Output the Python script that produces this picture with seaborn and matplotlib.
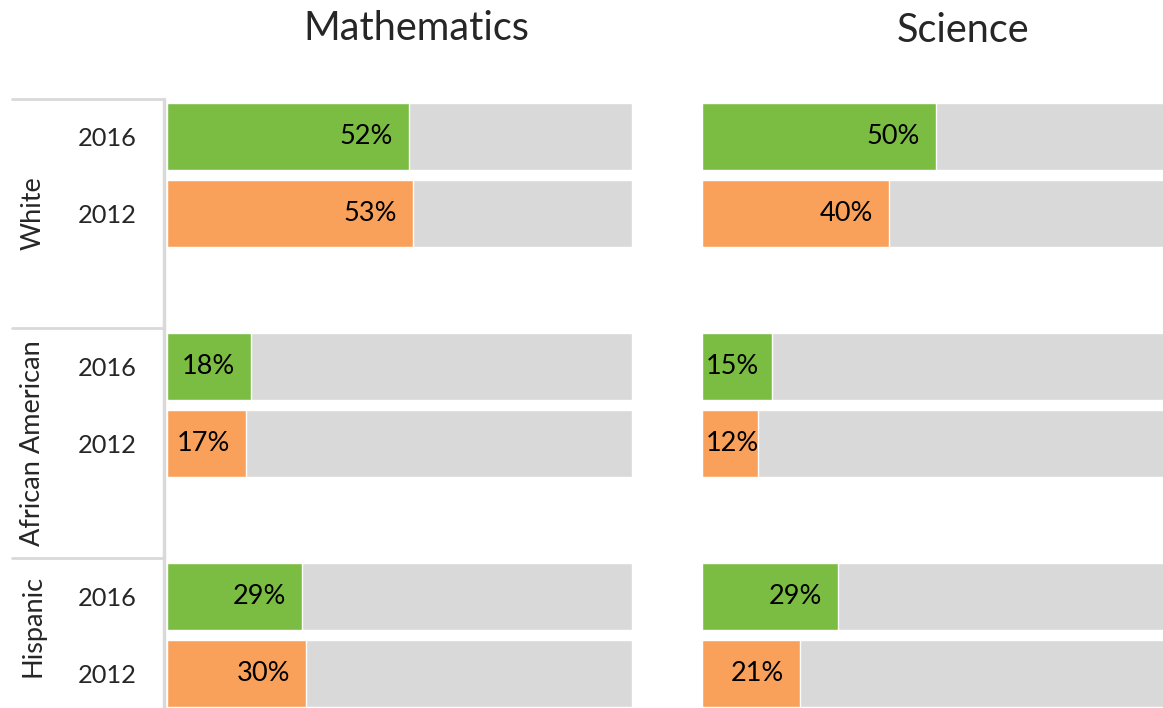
import matplotlib
matplotlib.use("Agg")
import matplotlib.pyplot as plt
from matplotlib.lines import Line2D
from matplotlib.transforms import offset_copy
import seaborn as sns
import pandas as pd

# Share of students reaching the benchmark, by group and year
groups = ["White", "African American", "Hispanic"]
years = ["2016", "2012"]
math_2016 = [52, 18, 29]
math_2012 = [53, 17, 30]
sci_2016 = [50, 15, 29]
sci_2012 = [40, 12, 21]
subjects = ["Mathematics", "Science"]

GREEN = "#7BBD43"
ORANGE = "#F9A15A"
GRAY = "#D9D9D9"
LINE = "#D9D9D9"

sns.set_theme(style="white")
plt.rcParams["font.family"] = ["Lato", "DejaVu Sans"]

W, H = 1163, 708
fig = plt.figure(figsize=(W / 100, H / 100), dpi=100)
renderer = fig.canvas.get_renderer()


def frame(values_2016, values_2012):
    rows = []
    for gi, g in enumerate(groups):
        rows.append({"pos": gi * 3, "year": years[0], "value": values_2016[gi]})
        rows.append({"pos": gi * 3 + 1, "year": years[1], "value": values_2012[gi]})
    df = pd.DataFrame(rows)
    df["full"] = 100
    return df


def px_axes(x0, x1, y0, y1):
    return fig.add_axes([x0 / W, 1 - y1 / H, (x1 - x0) / W, (y1 - y0) / H])


panels = [
    (frame(math_2016, math_2012), 167, 632),
    (frame(sci_2016, sci_2012), 702, 1170),
]
slot = 76.67
top_px, bot_px = 99, 708
first_center = 136.5
ymin = -(first_center - top_px) / slot
ymax = ymin + (bot_px - top_px) / slot
LABEL_SIZE = 19.5

axes = []
for df, x0, x1 in panels:
    ax = px_axes(x0, x1, top_px, bot_px)
    sns.barplot(data=df, x="full", y="pos", orient="h", native_scale=True,
                color=GRAY, width=0.874, saturation=1, ax=ax, errorbar=None)
    sns.barplot(data=df, x="value", y="pos", hue="year", orient="h",
                native_scale=True, palette={years[0]: GREEN, years[1]: ORANGE},
                width=0.874, saturation=1, dodge=False, ax=ax, legend=False,
                errorbar=None)
    ax.set_xlim(0, 100)
    ax.set_ylim(ymax, ymin)
    # value labels at the inside end, kept inside the bar's left edge
    inside_end = offset_copy(ax.transData, fig=fig, x=-16, y=0, units="dots")
    for _, r in df.iterrows():
        t = ax.text(r["value"], r["pos"], f"{r['value']}%", ha="right",
                    va="center", fontsize=LABEL_SIZE, color="black",
                    transform=inside_end)
        bb = t.get_window_extent(renderer)
        x_start = ax.transData.transform((0, 0))[0]
        if bb.x0 < x_start + 4:
            t.set_transform(offset_copy(ax.transData, fig=fig, x=4, y=0,
                                        units="dots"))
            t.set_x(0)
            t.set_ha("left")
    ax.set_xlabel("")
    ax.set_ylabel("")
    ax.set_xticks([])
    sns.despine(ax=ax, left=True, bottom=True)
    axes.append(ax)

# year labels beside the left panel
axl = axes[0]
axl.set_yticks(list(frame(math_2016, math_2012)["pos"]))
axl.set_yticklabels(years * len(groups), fontsize=18.3)
axl.tick_params(axis="y", length=0, pad=21.6)
axes[1].set_yticks([])

# panel titles
fig.text(416 / W, 1 - 28 / H, subjects[0], ha="center", va="center", fontsize=28.5)
fig.text(963 / W, 1 - 30 / H, subjects[1], ha="center", va="center", fontsize=28.5)

# group labels and separators
sep_px = [99, 328, 558, 708]
for gi, g in enumerate(groups):
    yc = (sep_px[gi] + sep_px[gi + 1]) / 2
    if gi == 2:
        yc = 626
    fig.text(33 / W, 1 - yc / H, g, rotation=90, ha="center", va="center",
             fontsize=19.5)
for yp in sep_px[:3]:
    fig.add_artist(Line2D([12 / W, 163 / W], [1 - yp / H, 1 - yp / H],
                          color=LINE, lw=2))
fig.add_artist(Line2D([164 / W, 164 / W], [1 - 99 / H, 0], color=LINE, lw=2.5))

fig.savefig("out.png", dpi=100)
